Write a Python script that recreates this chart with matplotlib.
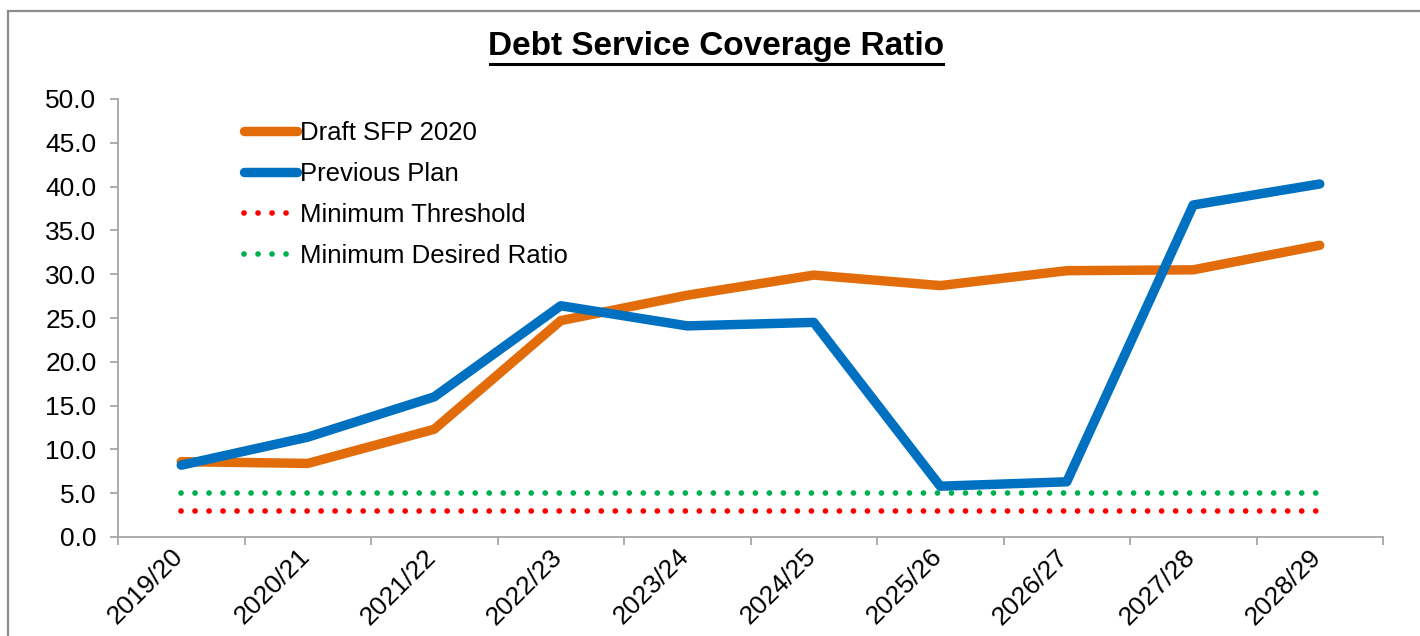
import matplotlib
matplotlib.use("Agg")
import matplotlib.pyplot as plt
from matplotlib.patches import Rectangle
from matplotlib.transforms import ScaledTranslation
import numpy as np

years = ["2019/20", "2020/21", "2021/22", "2022/23", "2023/24",
         "2024/25", "2025/26", "2026/27", "2027/28", "2028/29"]
draft_sfp = [8.6, 8.4, 12.3, 24.7, 27.6, 29.9, 28.7, 30.4, 30.5, 33.3]
previous_plan = [8.2, 11.4, 16.0, 26.4, 24.1, 24.5, 5.8, 6.3, 37.9, 40.3]
min_threshold = [3.0] * 10
min_desired = [5.0] * 10

plt.rcParams['font.family'] = ['Liberation Sans', 'DejaVu Sans']

fig = plt.figure(figsize=(14.2, 6.36), dpi=100)
ax = fig.add_axes([118/1420, 1-537/636, (1383-118)/1420, (537-99)/636])

x = np.arange(len(years))
ax.plot(x, draft_sfp, color="#E36C0A", lw=6.8, solid_capstyle="round",
        label="Draft SFP 2020")
ax.plot(x, previous_plan, color="#0070C0", lw=6.8, solid_capstyle="round",
        label="Previous Plan")
ax.plot(x, min_threshold, color="#FF0000", lw=4.1, dash_capstyle="round",
        linestyle=(0, (0.01, 2.45)), label="Minimum Threshold")
ax.plot(x, min_desired, color="#00B050", lw=4.1, dash_capstyle="round",
        linestyle=(0, (0.01, 2.45)), label="Minimum Desired Ratio")

ax.set_xlim(-0.5, len(years) - 0.5)
ax.set_ylim(0, 50)
ax.set_yticks(np.arange(0, 50.1, 5))
ax.set_yticklabels(["%.1f" % v for v in np.arange(0, 50.1, 5)], fontsize=19)
ax.set_xticks(x)
ax.set_xticklabels(years, fontsize=19, rotation=45, ha="right",
                   va="center", rotation_mode="anchor")
ax.set_xticks(np.arange(-0.5, len(years)), minor=True)
ax.tick_params(axis="x", which="major", length=0, pad=11.5)
ax.tick_params(axis="x", which="minor", length=6, color="#A6A6A6", width=1.3)
ax.tick_params(axis="y", length=6, color="#A6A6A6", width=1.3, pad=9.5)
for lbl in ax.get_xticklabels():
    lbl.set_transform(lbl.get_transform() + ScaledTranslation(-0.02, 0, fig.dpi_scale_trans))

for s in ["top", "right"]:
    ax.spines[s].set_visible(False)
for s in ["left", "bottom"]:
    ax.spines[s].set_color("#A6A6A6")
    ax.spines[s].set_linewidth(1.3)

fig.text(716/1420, 1-47/636, "Debt Service Coverage Ratio", fontsize=24,
         fontweight="bold", ha="center", va="center")
fig.add_artist(plt.Line2D([490/1420, 943/1420], [1-64/636, 1-64/636],
                          color="black", lw=2.2))

ax.legend(loc="upper left", bbox_to_anchor=(244/1420, 1-121/636),
          bbox_transform=fig.transFigure, frameon=False, fontsize=18.5,
          handlelength=2.06, handletextpad=0.12, labelspacing=0.66,
          borderpad=0, borderaxespad=0)

fig.patches.append(Rectangle((8/1420, -0.1), 1.2, 1.1 - 11/636,
                             transform=fig.transFigure, fill=False,
                             edgecolor="#8C8C8C", lw=1.6))

fig.savefig("out.png", dpi=100)
